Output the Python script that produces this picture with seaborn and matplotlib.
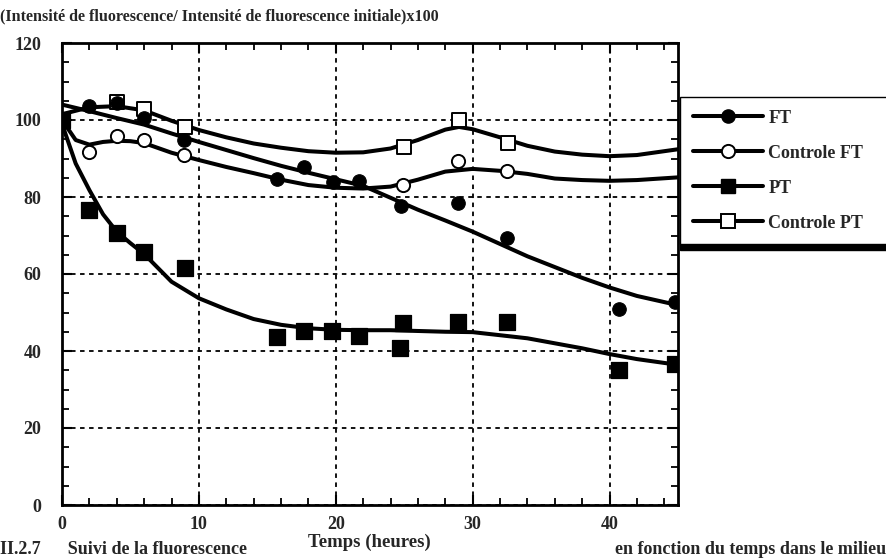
import matplotlib
matplotlib.use('Agg')
import matplotlib.pyplot as plt
from matplotlib.lines import Line2D
from matplotlib.ticker import MultipleLocator
import seaborn as sns

# Points mesurés (temps en heures, intensité relative x100)
t_ft = [0, 2, 4, 6, 8.9, 15.7, 17.7, 19.8, 21.7, 24.8, 28.9, 32.5, 40.7, 44.8]
v_ft = [100, 103.6, 104.3, 100.5, 94.8, 84.6, 87.9, 84.0, 84.2, 77.7, 78.4, 69.4, 50.8, 52.8]

t_cft = [0, 2, 4, 6, 8.9, 24.9, 28.9, 32.5]
v_cft = [100, 91.8, 95.8, 94.8, 90.9, 83.1, 89.4, 86.8]

t_pt = [0, 2, 4, 6, 9, 15.7, 17.7, 19.7, 21.7, 24.7, 24.9, 28.9, 32.5, 40.7, 44.8]
v_pt = [100, 76.6, 70.7, 65.8, 61.6, 43.7, 45.3, 45.3, 43.9, 40.9, 47.4, 47.5, 47.5, 35.1, 36.6]

t_cpt = [0, 4, 6, 9, 25, 29, 32.6]
v_cpt = [100, 104.8, 102.8, 98.3, 92.9, 100, 94]

# Courbes lissées
tc_ft = [0, 2, 4, 6, 8, 10, 12, 14, 16, 18, 20, 22, 24, 26, 28, 30, 32, 34, 36, 38, 40, 42, 45]
c_ft = [104, 102.3, 100.5, 98.8, 96.5, 94.3, 92.2, 90.1, 88.1, 86.3, 84.6, 82.9, 79.8, 76.7,
        73.9, 71.0, 67.8, 64.6, 61.8, 59.0, 56.5, 54.3, 51.9]

tc_cft = [0, 1, 2, 3, 4, 5, 6, 8, 10, 12, 14, 16, 18, 20, 22, 24, 26, 28, 30, 32, 34, 36, 38, 40, 42, 45]
c_cft = [100, 94.8, 93.6, 94.3, 94.6, 94.5, 94.0, 91.5, 89.6, 87.8, 86.2, 84.5, 83.1, 82.4, 82.2,
         82.7, 84.5, 86.6, 87.3, 86.8, 86.0, 84.8, 84.4, 84.2, 84.4, 85.1]

tc_pt = [0, 1, 2, 3, 4, 5, 6, 8, 10, 12, 14, 16, 18, 20, 22, 24, 26, 28, 30, 32, 34, 36, 38, 40, 42, 45]
c_pt = [99, 88.7, 81.8, 75.5, 71.0, 68.0, 65.2, 58.0, 53.7, 50.8, 48.3, 46.8, 45.9, 45.5, 45.4,
        45.4, 45.2, 45.0, 44.9, 44.1, 43.3, 42.0, 40.7, 39.2, 37.9, 36.4]

tc_cpt = [0, 2, 4, 6, 8, 10, 12, 14, 16, 18, 20, 22, 24, 26, 28, 29, 30, 32, 34, 36, 38, 40, 42, 45]
c_cpt = [101.5, 103.3, 103.6, 102.5, 99.8, 97.4, 95.5, 93.9, 92.8, 91.9, 91.5, 91.6, 92.6, 94.8,
         97.5, 98.2, 97.6, 95.5, 93.3, 91.8, 91.0, 90.6, 90.9, 92.4]

sns.set_style("ticks")
plt.rcParams['font.family'] = ['Liberation Serif', 'DejaVu Serif']
plt.rcParams['font.weight'] = 'bold'

fig = plt.figure(figsize=(8.86, 5.59), dpi=100)
ax = fig.add_axes([62/886, 1 - 505/559, (678 - 62)/886, (505 - 43)/559])

lw = 2.9
sns.lineplot(x=tc_cpt, y=c_cpt, ax=ax, color='k', lw=lw, sort=False)
sns.lineplot(x=tc_ft, y=c_ft, ax=ax, color='k', lw=lw, sort=False)
sns.lineplot(x=tc_cft, y=c_cft, ax=ax, color='k', lw=lw, sort=False)
sns.lineplot(x=tc_pt, y=c_pt, ax=ax, color='k', lw=lw, sort=False)

sns.scatterplot(x=t_cpt, y=v_cpt, ax=ax, marker='s', s=115, facecolor='white',
                edgecolor='k', linewidth=1.4, zorder=4)
sns.scatterplot(x=t_cft, y=v_cft, ax=ax, marker='o', s=90, facecolor='white',
                edgecolor='k', linewidth=1.4, zorder=4)
sns.scatterplot(x=t_pt, y=v_pt, ax=ax, marker='s', s=125, color='k',
                edgecolor='k', zorder=5)
sns.scatterplot(x=t_ft, y=v_ft, ax=ax, marker='o', s=95, color='k',
                edgecolor='k', zorder=5)

ax.set_xlim(0, 45)
ax.set_ylim(0, 120)
ax.xaxis.set_major_locator(MultipleLocator(10))
ax.xaxis.set_minor_locator(MultipleLocator(2))
ax.yaxis.set_major_locator(MultipleLocator(20))
ax.yaxis.set_minor_locator(MultipleLocator(5))
ax.tick_params(which='both', direction='in', top=True, right=True, color='k')
ax.tick_params(which='major', length=7, width=1.5)
ax.tick_params(which='minor', length=5, width=1.3)
ax.tick_params(axis='y', which='major', pad=15, labelsize=13)
ax.tick_params(axis='x', which='major', pad=8, labelsize=13)
for sp in ax.spines.values():
    sp.set_linewidth(2)
    sp.set_color('k')
ax.grid(True, which='major', color='k', lw=1.3, ls=(0, (2.5, 2.5)))
ax.set_xlabel('')
ax.set_ylabel('')

fig.text(0.0, 1 - 16/559, '(Intensité de fluorescence/ Intensité de fluorescence initiale)x100',
         ha='left', va='center', fontsize=11.6, fontweight='bold')
fig.text(369/886, 1 - 542/559, 'Temps (heures)', ha='center', va='center',
         fontsize=13.5, fontweight='bold')
# légende de la figure, en bas, de part et d'autre du titre de l'axe
fig.text(0.0, 0.001, 'II.2.7      Suivi de la fluorescence',
         ha='left', va='bottom', fontsize=13, fontweight='bold')
fig.text(1.0, 0.001, 'en fonction du temps dans le milieu',
         ha='right', va='bottom', fontsize=13, fontweight='bold')

handles = [
    Line2D([], [], color='k', lw=lw, marker='o', ms=9.5, mfc='k', mec='k'),
    Line2D([], [], color='k', lw=lw, marker='o', ms=9.5, mfc='white', mec='k', mew=1.4),
    Line2D([], [], color='k', lw=lw, marker='s', ms=10.5, mfc='k', mec='k'),
    Line2D([], [], color='k', lw=lw, marker='s', ms=10.5, mfc='white', mec='k', mew=1.4),
]
labels = ['FT', 'Controle FT', 'PT', 'Controle PT']
leg = ax.legend(handles, labels, loc='upper left',
                bbox_to_anchor=(680/886, 1 - 97/559, 0.3, 0.0), mode='expand',
                bbox_transform=fig.transFigure, borderaxespad=0, frameon=True,
                fancybox=False, shadow={'color': 'k', 'alpha': 1, 'ox': 0, 'oy': -4},
                edgecolor='k', framealpha=1, handlelength=3.9, handletextpad=0.3,
                labelspacing=1.0, borderpad=0.7, prop={'size': 13, 'weight': 'bold'})
leg.get_frame().set_linewidth(1)

plt.savefig('out.png', dpi=100)
